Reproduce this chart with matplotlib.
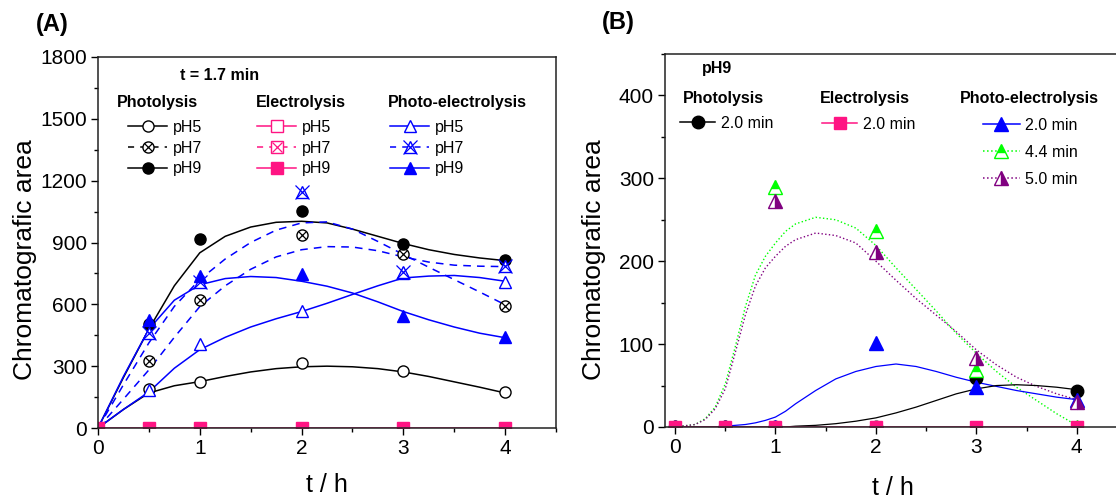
import matplotlib
matplotlib.use("Agg")
from matplotlib import pyplot as plt
from matplotlib.lines import Line2D
from matplotlib.legend import Legend
from matplotlib.legend_handler import HandlerTuple
from matplotlib.ticker import MultipleLocator

plt.rcParams['font.family'] = ['Liberation Sans', 'DejaVu Sans']

PINK = '#ff1483'
BLUE = '#0000ff'
GREEN = '#00ff00'
PURPLE = '#800080'

W, H = 1116, 499

##############################
## Panel A data (t = 1.7 min)
##############################
t_A = [0, 0.5, 1, 2, 3, 4]
photo_pH5 = [0, 190, 224, 316, 277, 175]
photo_pH7 = [0, 326, 623, 934, 842, 594]
photo_pH9 = [0, 506, 915, 1051, 895, 817]
electro_pH5 = [0, 0, 0, 0, 0, 0]
electro_pH7 = [0, 0, 0, 0, 0, 0]
electro_pH9 = [0, 0, 0, 0, 0, 0]
pe_pH5 = [0, 185, 409, 569, 754, 710]
pe_pH7 = [0, 462, 710, 1143, 759, 788]
pe_pH9 = [0, 525, 739, 749, 545, 443]

## fitted curves
t_fit_A = [0, 0.25, 0.5, 0.75, 1, 1.25, 1.5, 1.75, 2, 2.25, 2.5, 2.75, 3, 3.25, 3.5, 3.75, 4]
fit_photo_pH5 = [0, 90, 170, 205, 225, 250, 272, 288, 297, 300, 297, 288, 272, 250, 224, 198, 170]
fit_photo_pH9 = [0, 245, 480, 690, 850, 930, 975, 998, 1003, 995, 965, 930, 895, 865, 842, 825, 812]
fit_pe_pH5 = [0, 90, 175, 290, 380, 440, 490, 530, 565, 605, 648, 690, 728, 737, 740, 730, 712]
fit_pe_pH9 = [0, 250, 480, 620, 695, 725, 735, 730, 712, 688, 655, 612, 565, 525, 490, 460, 438]
fit_dash_upper = [0, 210, 413, 590, 720, 820, 900, 960, 995, 1000, 965, 905, 842, 780, 720, 660, 598]
fit_dash_lower = [0, 140, 282, 440, 589, 690, 770, 830, 865, 880, 878, 860, 830, 805, 790, 785, 783]

##############################
## Panel B data (pH9)
##############################
t_B = [0, 0.5, 1, 2, 3, 4]
photo_20 = [0, 0, 0, 0, 59, 43]
electro_20 = [0, 0, 0, 0, 0, 0]
pe_20 = [0, 0, 0, 101, 48, 33]
pe_44 = [0, 0, 289, 237, 69, 0]
pe_50 = [0, 0, 273, 211, 83, 30]

t_fit_B = [0, 0.2, 0.3, 0.4, 0.5, 0.6, 0.7, 0.8, 0.9, 1.0, 1.1, 1.2, 1.4, 1.6, 1.8, 2.0,
           2.2, 2.4, 2.6, 2.8, 3.0, 3.2, 3.4, 3.6, 3.8, 4.0]
fit_photo_20 = [0, 0, 0, 0, 0, 0, 0, 0, 0, 0, 0, 1, 2, 4, 7, 11,
                17, 24, 32, 40, 46, 50, 51, 50, 48, 45]
fit_pe_20 = [0, 0, 0, 0, 1, 2, 3, 5, 8, 12, 19, 28, 44, 58, 67, 73,
             76, 73, 67, 60, 54, 49, 44, 40, 36, 33]
fit_pe_44 = [0, 3, 10, 24, 52, 97, 145, 183, 206, 222, 236, 245, 253, 250, 240, 219,
             192, 166, 140, 113, 89, 67, 48, 32, 16, 2]
fit_pe_50 = [0, 3, 9, 22, 46, 90, 135, 170, 192, 206, 218, 226, 234, 231, 222, 200,
             177, 155, 135, 115, 93, 75, 60, 49, 40, 33]


fig = plt.figure(figsize=(W / 100, H / 100), dpi=100)
axA = fig.add_axes([98 / W, 71 / H, 458 / W, 371 / H])
axB = fig.add_axes([665 / W, 72 / H, 462 / W, 373 / H])

LW = 1.1

## ---- Panel A ----
axA.plot(t_fit_A, fit_photo_pH5, '-', color='k', lw=LW)
axA.plot(t_fit_A, fit_photo_pH9, '-', color='k', lw=LW)
axA.plot(t_fit_A, fit_pe_pH5, '-', color=BLUE, lw=LW)
axA.plot(t_fit_A, fit_pe_pH9, '-', color=BLUE, lw=LW)
axA.plot(t_fit_A, fit_dash_upper, '--', color=BLUE, lw=LW, dashes=(5, 4))
axA.plot(t_fit_A, fit_dash_lower, '--', color=BLUE, lw=LW, dashes=(5, 4))
axA.plot(t_A, electro_pH9, '-', color=PINK, lw=LW)

axA.plot(t_A, photo_pH5, 'o', ms=8, mfc='white', mec='k', mew=1)
axA.plot(t_A, photo_pH7, 'o', ms=8, mfc='white', mec='k', mew=1)
axA.plot(t_A, photo_pH7, 'x', ms=6, mec='k', mew=0.9)
axA.plot(t_A, photo_pH9, 'o', ms=8, mfc='k', mec='k')
axA.plot(t_A, pe_pH5, '^', ms=9, mfc='white', mec=BLUE, mew=1)
axA.plot(t_A, pe_pH7, '^', ms=9, mfc='white', mec=BLUE, mew=1)
axA.plot(t_A, pe_pH7, 'x', ms=10, mec=BLUE, mew=0.9)
axA.plot(t_A, pe_pH9, '^', ms=9, mfc=BLUE, mec=BLUE)
axA.plot(t_A, electro_pH9, 's', ms=8, mfc=PINK, mec=PINK)

axA.set_xlim(0, 4.5)
axA.set_ylim(0, 1800)
axA.set_xticks([0, 1, 2, 3, 4])
axA.xaxis.set_minor_locator(MultipleLocator(0.5))
axA.yaxis.set_major_locator(MultipleLocator(300))
axA.yaxis.set_minor_locator(MultipleLocator(150))

## ---- Panel B ----
axB.plot(t_fit_B, fit_pe_44, ':', color=GREEN, lw=1.0)
axB.plot(t_fit_B, fit_pe_50, ':', color=PURPLE, lw=1.0)
axB.plot(t_fit_B, fit_pe_20, '-', color=BLUE, lw=0.9)
axB.plot(t_fit_B, fit_photo_20, '-', color='k', lw=0.9)
axB.plot(t_B, electro_20, '-', color=PINK, lw=LW)

axB.plot(t_B, photo_20, 'o', ms=9, mfc='k', mec='k')
axB.plot(t_B, pe_20, '^', ms=10, mfc=BLUE, mec=BLUE)
axB.plot(t_B, pe_44, '^', ms=10, fillstyle='top', mfc=GREEN, mfcalt='white', mec=GREEN, mew=1)
axB.plot(t_B, pe_50, '^', ms=10, fillstyle='right', mfc=PURPLE, mfcalt='white', mec=PURPLE, mew=1)
axB.plot(t_B, electro_20, 's', ms=9, mfc=PINK, mec=PINK)

axB.set_xlim(-0.1, 4.5)
axB.set_ylim(0, 450)
axB.set_xticks([0, 1, 2, 3, 4])
axB.xaxis.set_minor_locator(MultipleLocator(0.5))
axB.set_yticks([0, 100, 200, 300, 400])
axB.yaxis.set_minor_locator(MultipleLocator(50))

for ax in (axA, axB):
    ax.tick_params(which='major', direction='out', length=5, width=1, labelsize=15, pad=3)
    ax.tick_params(which='minor', direction='out', length=3, width=1)
    for s in ax.spines.values():
        s.set_linewidth(1.1)
        s.set_color('#222222')
    ax.set_ylabel('Chromatografic area', fontsize=19, va='center')
    ax.set_xlabel('t / h', fontsize=18, va='center')

axA.yaxis.set_label_coords(-0.159, 0.453)
axA.xaxis.set_label_coords(0.5, -0.154)
axB.yaxis.set_label_coords(-0.154, 0.448)
axB.xaxis.set_label_coords(0.494, -0.164)

fig.text(52 / W, 1 - 25 / H, '(A)', fontsize=17, fontweight='bold', ha='center', va='center')
fig.text(618 / W, 1 - 23 / H, '(B)', fontsize=17, fontweight='bold', ha='center', va='center')


##############################
## Legends built by hand
##############################
LFS = 11.5


def title(x, y, s):
    fig.text(x / W, 1 - y / H, s, fontsize=LFS, fontweight='bold', ha='left', va='center')


def legend(ax, handles, labels, x, y, hl, spacing):
    leg = Legend(ax, handles, labels, loc='upper left', bbox_to_anchor=(x / W, 1 - y / H),
                 bbox_transform=fig.transFigure, frameon=False, fontsize=LFS,
                 borderpad=0, borderaxespad=0, handlelength=hl, handletextpad=0.35,
                 labelspacing=spacing, handler_map={tuple: HandlerTuple(ndivide=1, pad=0)})
    ax.add_artist(leg)
    return leg


def mk(color, ls, marker, ms=8, **kw):
    return Line2D([], [], color=color, ls=ls, lw=LW, marker=marker, ms=ms, **kw)


def cross(color, ms=6):
    return Line2D([], [], ls='none', marker='x', ms=ms, mec=color, mew=0.9)


## Panel A
title(180, 76, 't = 1.7 min')
title(117, 102, 'Photolysis')
title(256, 102, 'Electrolysis')
title(388, 102, 'Photo-electrolysis')

legend(axA, [mk('k', '-', 'o', mfc='white', mec='k'),
             (mk('k', '--', 'o', mfc='white', mec='k', dashes=(4, 4)), cross('k')),
             mk('k', '-', 'o', mfc='k', mec='k')],
       ['pH5', 'pH7', 'pH9'], 128, 120, 2.45, 0.35)
legend(axA, [mk(PINK, '-', 's', mfc='white', mec=PINK),
             (mk(PINK, '--', 's', mfc='white', mec=PINK, dashes=(4, 4)), cross(PINK, 7)),
             mk(PINK, '-', 's', mfc=PINK, mec=PINK)],
       ['pH5', 'pH7', 'pH9'], 257, 120, 2.45, 0.35)
legend(axA, [mk(BLUE, '-', '^', ms=9, mfc='white', mec=BLUE),
             (mk(BLUE, '--', '^', ms=9, mfc='white', mec=BLUE, dashes=(4, 4)), cross(BLUE, 10)),
             mk(BLUE, '-', '^', ms=9, mfc=BLUE, mec=BLUE)],
       ['pH5', 'pH7', 'pH9'], 390, 120, 2.45, 0.35)

## Panel B
title(702, 69, 'pH9')
title(683, 98, 'Photolysis')
title(820, 98, 'Electrolysis')
title(960, 98, 'Photo-electrolysis')

legend(axB, [mk('k', '-', 'o', ms=9, mfc='k', mec='k')], ['2.0 min'], 680, 116, 2.2, 0.5)
legend(axB, [mk(PINK, '-', 's', ms=8, mfc=PINK, mec=PINK)], ['2.0 min'], 822, 117, 2.2, 0.5)
legend(axB, [mk(BLUE, '-', '^', ms=10, mfc=BLUE, mec=BLUE),
             mk(GREEN, ':', '^', ms=10, fillstyle='top', mfc=GREEN, mfcalt='white', mec=GREEN),
             mk(PURPLE, ':', '^', ms=10, fillstyle='right', mfc=PURPLE, mfcalt='white', mec=PURPLE)],
       ['2.0 min', '4.4 min', '5.0 min'], 983, 118, 2.3, 0.75)

fig.savefig('out.png', dpi=100)
